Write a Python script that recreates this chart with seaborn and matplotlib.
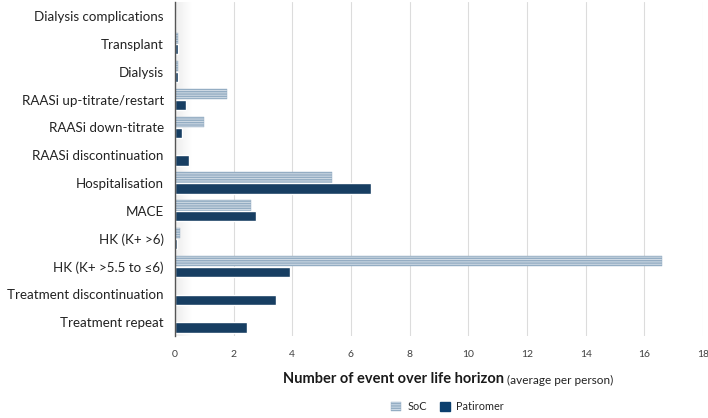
import numpy as np
import pandas as pd
import matplotlib
matplotlib.use("Agg")
import matplotlib.pyplot as plt
from matplotlib.patches import Patch
import seaborn as sns

# Data
categories = [
    "Dialysis complications", "Transplant", "Dialysis",
    "RAASi up-titrate/restart", "RAASi down-titrate", "RAASi discontinuation",
    "Hospitalisation", "MACE", "HK (K+ >6)", "HK (K+ >5.5 to \u22646)",
    "Treatment discontinuation", "Treatment repeat",
]
soc = [0.0, 0.10, 0.10, 1.78, 1.00, 0.0, 5.34, 2.58, 0.19, 16.6, 0.0, 0.0]
patiromer = [0.0, 0.12, 0.12, 0.39, 0.24, 0.49, 6.70, 2.76, 0.08, 3.94, 3.45, 2.47]
x_ticks = [0, 2, 4, 6, 8, 10, 12, 14, 16, 18]

df = pd.DataFrame({
    "Category": categories * 2,
    "Value": soc + patiromer,
    "Arm": ["SoC"] * len(categories) + ["Patiromer"] * len(categories),
})

sns.set_theme(style="white")
plt.rcParams['font.family'] = ['Lato', 'DejaVu Sans']
plt.rcParams['hatch.linewidth'] = 1.0
plt.rcParams['hatch.color'] = '#6a89a5'

soc_fill = '#cddbe8'
pat_col = '#0b3f6e'
soc_hatch = '-------'

fig = plt.figure(figsize=(7.08, 4.18), dpi=100)
ax = fig.add_axes([0.247, 0.196, 0.746, 0.799])

sns.barplot(data=df, x="Value", y="Category", hue="Arm", order=categories,
            hue_order=["SoC", "Patiromer"], palette={"SoC": soc_fill, "Patiromer": pat_col},
            orient="y", width=0.78, gap=0.04, legend=False, ax=ax, zorder=2)

n = len(categories)
for p in ax.patches[:n]:
    p.set_hatch(soc_hatch)
    p.set_edgecolor('#94adc3')
    p.set_linewidth(0.3)

ax.set_xticks(x_ticks)
ax.set_xticklabels([str(t) for t in x_ticks], fontsize=7.5, color='#404040')
ax.tick_params(axis='x', length=0, pad=10)
ax.tick_params(axis='y', length=0, pad=8, labelsize=9.6, labelcolor='#222222')
ax.xaxis.grid(True, color='#dcdcdc', linewidth=0.8, zorder=0)
ax.set_axisbelow(True)
for s in ['top', 'right', 'bottom']:
    ax.spines[s].set_visible(False)
ax.spines['left'].set_color('#555555')
ax.spines['left'].set_linewidth(1.0)
ax.set_xlabel("")
ax.set_ylabel("")

# soft shadow next to the axis line
grad = np.linspace(0, 1, 64).reshape(1, -1)
shade = matplotlib.colors.LinearSegmentedColormap.from_list('sh', ['#ededed', '#ffffff'])
ax.imshow(grad, cmap=shade, extent=(0, 0.55, n - 0.5, -0.5), aspect='auto', zorder=1)
ax.set_xlim(0, 18)
ax.set_ylim(n - 0.5, -0.5)

# x label in two styles
t1 = fig.text(0.40, 0.083, "Number of event over life horizon", fontsize=10.5,
              fontweight='bold', color='#1a1a1a', va='baseline', ha='left')
fig.canvas.draw()
ax.annotate(" (average per person)", xy=(1, 0), xycoords=t1, fontsize=8.5,
            color='#222222', va='bottom', ha='left')

handles = [Patch(facecolor=soc_fill, edgecolor='#94adc3', hatch=soc_hatch, linewidth=0.3),
           Patch(facecolor=pat_col, edgecolor=pat_col)]
fig.legend(handles, ["SoC", "Patiromer"], loc='center', bbox_to_anchor=(0.632, 0.028),
           ncol=2, frameon=False, fontsize=7.8, handlelength=0.9, handleheight=0.9,
           columnspacing=1.2, handletextpad=0.6)

fig.savefig("out.png", dpi=100)
